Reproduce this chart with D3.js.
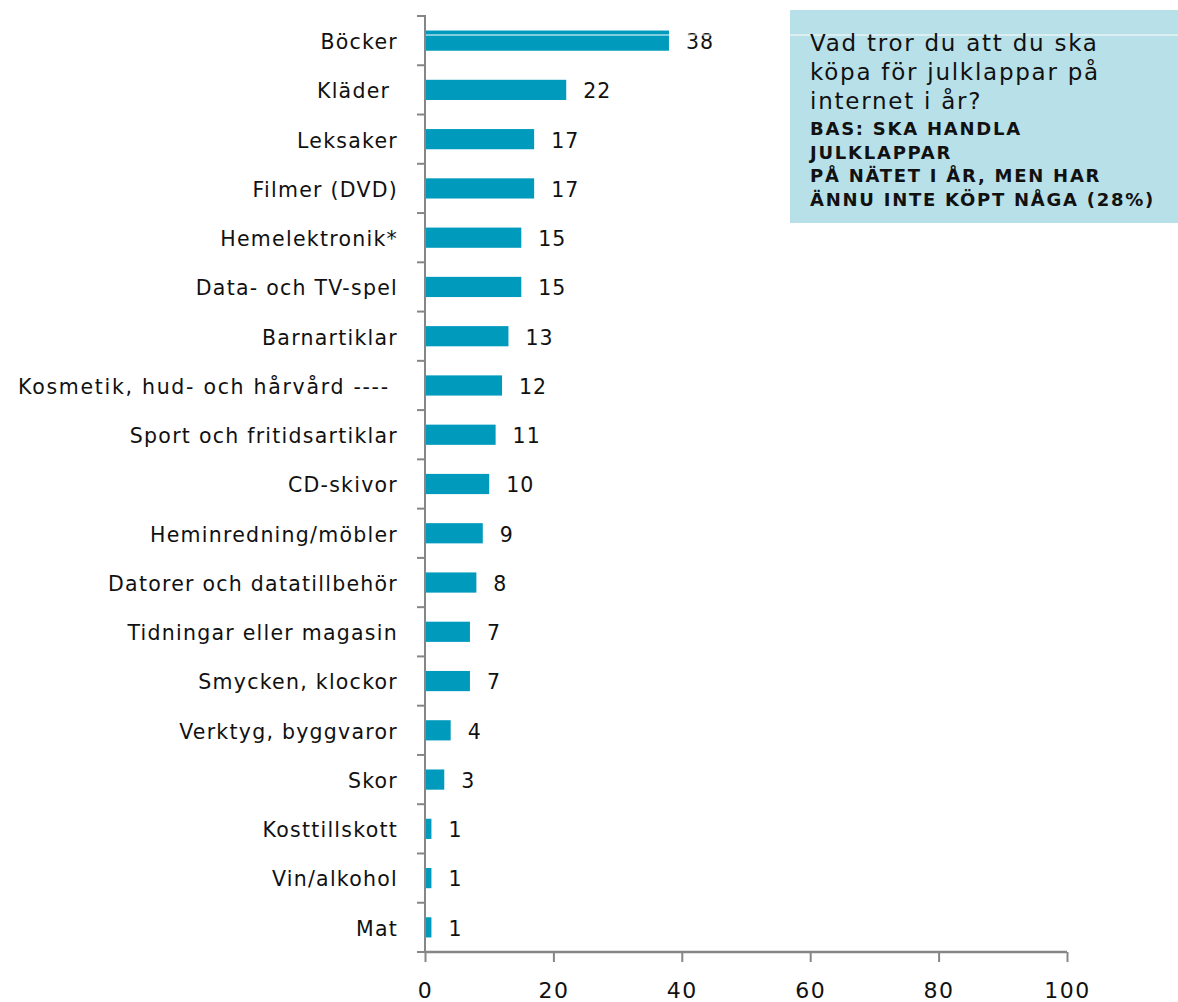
<!DOCTYPE html>
<html><head><meta charset="utf-8">
<script src="https://cdn.jsdelivr.net/npm/d3@7"></script>
<style>body{margin:0;background:#fff}svg text{font-family:"DejaVu Sans",Verdana,sans-serif;white-space:pre}</style>
</head><body>
<script>
const categories = ["Böcker","Kläder ","Leksaker","Filmer (DVD)","Hemelektronik*","Data- och TV-spel","Barnartiklar","Kosmetik, hud- och hårvård ---- ","Sport och fritidsartiklar","CD-skivor","Heminredning/möbler","Datorer och datatillbehör","Tidningar eller magasin","Smycken, klockor","Verktyg, byggvaror","Skor","Kosttillskott","Vin/alkohol","Mat"];
const values = [38,22,17,17,15,15,13,12,11,10,9,8,7,7,4,3,1,1,1];
const xTicks = [0,20,40,60,80,100];
const titleLines = ["Vad tror du att du ska","köpa för julklappar på","internet i år?"];
const baseLines = ["BAS: SKA HANDLA","JULKLAPPAR","PÅ NÄTET I ÅR, MEN HAR","ÄNNU INTE KÖPT NÅGA (28%)"];

const W=1178,H=1002;
const svg=d3.select("body").append("svg").attr("width",W).attr("height",H);
const x=d3.scaleLinear().domain([0,100]).range([425,1067]);
const y=d3.scaleBand().domain(categories).range([16,952]).paddingInner(0.59).paddingOuter(0.295);
const axisCol="#868686", barCol="#009abd";

svg.selectAll("rect.bar").data(values).join("rect").attr("class","bar")
  .attr("x",x(0)).attr("y",(d,i)=>y(categories[i]))
  .attr("width",d=>x(d)-x(0)).attr("height",y.bandwidth()).attr("fill",barCol);
svg.selectAll("text.val").data(values).join("text").attr("class","val")
  .attr("x",d=>x(d)+17).attr("y",(d,i)=>y(categories[i])+y.bandwidth()/2+1)
  .attr("dy","0.36em").attr("font-size",20.5).attr("letter-spacing",1).attr("fill","#111").text(d=>d);
svg.selectAll("text.cat").data(categories).join("text").attr("class","cat")
  .attr("x",398).attr("y",d=>y(d)+y.bandwidth()/2+1).attr("dy","0.36em")
  .attr("text-anchor","end").attr("font-size",20.5).attr("letter-spacing",d=>d.length>30?1.7:1.25).attr("fill","#111").text(d=>d);

const step=y.step();
const yTickPos=d3.range(categories.length+1).map(i=>16+i*step);
svg.append("line").attr("x1",425).attr("x2",425).attr("y1",15).attr("y2",952).attr("stroke",axisCol).attr("stroke-width",2);
svg.selectAll("line.yt").data(yTickPos).join("line").attr("class","yt")
  .attr("x1",417).attr("x2",425).attr("y1",d=>d).attr("y2",d=>d).attr("stroke",axisCol).attr("stroke-width",2);

const xa=svg.append("g").attr("transform","translate(0,952)")
  .call(d3.axisBottom(x).tickValues(xTicks).tickSize(10).tickPadding(20).tickFormat(d3.format("d")));
xa.select(".domain").attr("stroke",axisCol).attr("stroke-width",2.5).attr("d","M425,0H1067");
xa.selectAll(".tick line").attr("stroke",axisCol).attr("stroke-width",2);
xa.selectAll(".tick text").attr("font-size",22).attr("letter-spacing",1.5).attr("fill","#111").attr("font-family","DejaVu Sans, Verdana, sans-serif");

svg.append("rect").attr("x",790).attr("y",10).attr("width",388).attr("height",213).attr("fill","#b8e0e8");
svg.append("line").attr("x1",426).attr("x2",1178).attr("y1",35).attr("y2",35).attr("stroke","#fff").attr("stroke-width",1);
svg.selectAll("text.tl").data(titleLines).join("text").attr("class","tl")
  .attr("x",810).attr("y",(d,i)=>51+i*29).attr("font-size",23).attr("letter-spacing",1.75).attr("fill","#111").text(d=>d);
svg.selectAll("text.bl").data(baseLines).join("text").attr("class","bl")
  .attr("x",810).attr("y",(d,i)=>135+i*23.5).attr("font-size",18).attr("letter-spacing",1.75).attr("font-weight","bold").attr("fill","#111").text(d=>d);
</script>
</body></html>
